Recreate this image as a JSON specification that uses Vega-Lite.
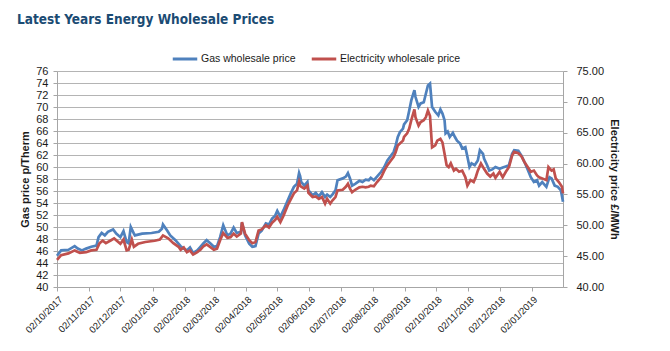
{
  "$schema": "https://vega.github.io/schema/vega-lite/v6.json",
  "width": 506,
  "height": 216,
  "autosize": {"type": "none"},
  "padding": {"left": 57, "top": 71, "right": 107, "bottom": 64},
  "background": "white",
  "title": {
    "text": "Latest Years Energy Wholesale Prices",
    "anchor": "start",
    "frame": "group",
    "dx": -40,
    "offset": 19,
    "font": "'DejaVu Sans Condensed', Lato, sans-serif",
    "fontSize": 13.5,
    "fontWeight": "bold",
    "color": "#1b4b73"
  },
  "datasets": {
    "gas": [
      {"date": "2017-10-02", "price": 45.2}, {"date": "2017-10-06", "price": 46.1}, {"date": "2017-10-13", "price": 46.2},
      {"date": "2017-10-19", "price": 46.8}, {"date": "2017-10-22", "price": 46.4}, {"date": "2017-10-26", "price": 46.1},
      {"date": "2017-10-30", "price": 46.4}, {"date": "2017-11-04", "price": 46.7}, {"date": "2017-11-09", "price": 46.9},
      {"date": "2017-11-11", "price": 48.3}, {"date": "2017-11-14", "price": 49.0}, {"date": "2017-11-17", "price": 48.6},
      {"date": "2017-11-20", "price": 49.2}, {"date": "2017-11-25", "price": 49.6}, {"date": "2017-11-28", "price": 48.9},
      {"date": "2017-12-02", "price": 48.3}, {"date": "2017-12-05", "price": 49.3}, {"date": "2017-12-08", "price": 47.5},
      {"date": "2017-12-10", "price": 47.3}, {"date": "2017-12-12", "price": 50.0}, {"date": "2017-12-15", "price": 48.9},
      {"date": "2017-12-16", "price": 48.6}, {"date": "2017-12-23", "price": 48.9}, {"date": "2018-01-01", "price": 49.0},
      {"date": "2018-01-08", "price": 49.2}, {"date": "2018-01-11", "price": 49.7}, {"date": "2018-01-12", "price": 50.4},
      {"date": "2018-01-16", "price": 49.4}, {"date": "2018-01-19", "price": 48.6}, {"date": "2018-01-24", "price": 47.8},
      {"date": "2018-01-29", "price": 46.8}, {"date": "2018-02-01", "price": 46.4}, {"date": "2018-02-04", "price": 46.1},
      {"date": "2018-02-07", "price": 46.6}, {"date": "2018-02-10", "price": 45.7}, {"date": "2018-02-14", "price": 46.1},
      {"date": "2018-02-17", "price": 46.7}, {"date": "2018-02-20", "price": 47.3}, {"date": "2018-02-23", "price": 47.8},
      {"date": "2018-02-27", "price": 47.2}, {"date": "2018-03-02", "price": 46.7}, {"date": "2018-03-05", "price": 46.8},
      {"date": "2018-03-08", "price": 48.3}, {"date": "2018-03-11", "price": 50.3}, {"date": "2018-03-15", "price": 48.6},
      {"date": "2018-03-18", "price": 48.9}, {"date": "2018-03-21", "price": 49.9}, {"date": "2018-03-24", "price": 49.0},
      {"date": "2018-03-28", "price": 49.2}, {"date": "2018-03-29", "price": 50.7}, {"date": "2018-04-01", "price": 48.6},
      {"date": "2018-04-05", "price": 47.2}, {"date": "2018-04-08", "price": 46.7}, {"date": "2018-04-11", "price": 46.8},
      {"date": "2018-04-14", "price": 48.9}, {"date": "2018-04-17", "price": 49.4}, {"date": "2018-04-21", "price": 50.6},
      {"date": "2018-04-24", "price": 50.4}, {"date": "2018-04-27", "price": 51.4}, {"date": "2018-04-30", "price": 51.9},
      {"date": "2018-05-02", "price": 52.7}, {"date": "2018-05-05", "price": 51.7}, {"date": "2018-05-08", "price": 52.8},
      {"date": "2018-05-12", "price": 54.4}, {"date": "2018-05-15", "price": 55.6}, {"date": "2018-05-18", "price": 56.7},
      {"date": "2018-05-21", "price": 57.2}, {"date": "2018-05-23", "price": 59.0}, {"date": "2018-05-24", "price": 58.5},
      {"date": "2018-05-25", "price": 57.5}, {"date": "2018-05-28", "price": 56.9}, {"date": "2018-05-31", "price": 57.5},
      {"date": "2018-06-01", "price": 56.1}, {"date": "2018-06-05", "price": 55.3}, {"date": "2018-06-08", "price": 55.7},
      {"date": "2018-06-11", "price": 55.1}, {"date": "2018-06-14", "price": 55.8}, {"date": "2018-06-17", "price": 55.0},
      {"date": "2018-06-19", "price": 55.4}, {"date": "2018-06-22", "price": 55.0}, {"date": "2018-06-24", "price": 55.4},
      {"date": "2018-06-27", "price": 56.1}, {"date": "2018-06-29", "price": 57.8}, {"date": "2018-07-04", "price": 58.1},
      {"date": "2018-07-07", "price": 58.4}, {"date": "2018-07-09", "price": 59.0}, {"date": "2018-07-11", "price": 58.1},
      {"date": "2018-07-13", "price": 56.9}, {"date": "2018-07-16", "price": 57.2}, {"date": "2018-07-20", "price": 57.7},
      {"date": "2018-07-23", "price": 57.5}, {"date": "2018-07-26", "price": 57.9}, {"date": "2018-07-29", "price": 57.8},
      {"date": "2018-07-31", "price": 58.2}, {"date": "2018-08-03", "price": 57.8}, {"date": "2018-08-06", "price": 58.4},
      {"date": "2018-08-10", "price": 59.2}, {"date": "2018-08-13", "price": 60.0}, {"date": "2018-08-16", "price": 61.1},
      {"date": "2018-08-19", "price": 61.8}, {"date": "2018-08-22", "price": 62.5}, {"date": "2018-08-24", "price": 63.6},
      {"date": "2018-08-26", "price": 65.0}, {"date": "2018-08-28", "price": 65.8}, {"date": "2018-08-31", "price": 66.4},
      {"date": "2018-09-01", "price": 67.1}, {"date": "2018-09-04", "price": 67.8}, {"date": "2018-09-06", "price": 69.4},
      {"date": "2018-09-08", "price": 71.1}, {"date": "2018-09-11", "price": 72.8}, {"date": "2018-09-12", "price": 71.7},
      {"date": "2018-09-15", "price": 70.0}, {"date": "2018-09-17", "price": 70.6}, {"date": "2018-09-20", "price": 70.8},
      {"date": "2018-09-22", "price": 72.2}, {"date": "2018-09-24", "price": 73.6}, {"date": "2018-09-26", "price": 73.9},
      {"date": "2018-09-28", "price": 70.0}, {"date": "2018-10-01", "price": 69.2}, {"date": "2018-10-04", "price": 68.6},
      {"date": "2018-10-06", "price": 69.6}, {"date": "2018-10-08", "price": 68.9}, {"date": "2018-10-10", "price": 67.8},
      {"date": "2018-10-11", "price": 65.6}, {"date": "2018-10-13", "price": 65.9}, {"date": "2018-10-15", "price": 65.0},
      {"date": "2018-10-18", "price": 65.7}, {"date": "2018-10-20", "price": 65.0}, {"date": "2018-10-22", "price": 64.4},
      {"date": "2018-10-25", "price": 63.9}, {"date": "2018-10-27", "price": 63.1}, {"date": "2018-10-30", "price": 63.3},
      {"date": "2018-11-01", "price": 61.7}, {"date": "2018-11-03", "price": 60.0}, {"date": "2018-11-05", "price": 60.6},
      {"date": "2018-11-08", "price": 60.3}, {"date": "2018-11-11", "price": 61.1}, {"date": "2018-11-13", "price": 62.8},
      {"date": "2018-11-16", "price": 62.2}, {"date": "2018-11-17", "price": 61.4}, {"date": "2018-11-20", "price": 60.3},
      {"date": "2018-11-22", "price": 59.4}, {"date": "2018-11-25", "price": 59.6}, {"date": "2018-11-28", "price": 60.0},
      {"date": "2018-12-02", "price": 59.7}, {"date": "2018-12-05", "price": 59.9}, {"date": "2018-12-08", "price": 60.1},
      {"date": "2018-12-11", "price": 60.3}, {"date": "2018-12-14", "price": 62.2}, {"date": "2018-12-16", "price": 62.8},
      {"date": "2018-12-20", "price": 62.7}, {"date": "2018-12-23", "price": 61.9}, {"date": "2018-12-26", "price": 60.8},
      {"date": "2018-12-29", "price": 59.6}, {"date": "2019-01-01", "price": 58.3}, {"date": "2019-01-04", "price": 57.5},
      {"date": "2019-01-07", "price": 57.8}, {"date": "2019-01-09", "price": 56.9}, {"date": "2019-01-12", "price": 57.5},
      {"date": "2019-01-16", "price": 56.7}, {"date": "2019-01-19", "price": 58.3}, {"date": "2019-01-21", "price": 58.1},
      {"date": "2019-01-24", "price": 56.9}, {"date": "2019-01-27", "price": 56.7}, {"date": "2019-01-30", "price": 56.1},
      {"date": "2019-02-01", "price": 54.2}
    ],
    "elec": [
      {"date": "2017-10-02", "price": 44.4}, {"date": "2017-10-06", "price": 45.15}, {"date": "2017-10-13", "price": 45.44},
      {"date": "2017-10-19", "price": 45.93}, {"date": "2017-10-24", "price": 45.54}, {"date": "2017-10-30", "price": 45.64},
      {"date": "2017-11-04", "price": 45.93}, {"date": "2017-11-09", "price": 46.03}, {"date": "2017-11-12", "price": 47.1},
      {"date": "2017-11-15", "price": 47.49}, {"date": "2017-11-18", "price": 47.1}, {"date": "2017-11-23", "price": 47.58},
      {"date": "2017-11-26", "price": 47.88}, {"date": "2017-12-02", "price": 47.0}, {"date": "2017-12-05", "price": 47.68},
      {"date": "2017-12-08", "price": 45.93}, {"date": "2017-12-10", "price": 46.03}, {"date": "2017-12-13", "price": 47.68},
      {"date": "2017-12-15", "price": 46.51}, {"date": "2017-12-19", "price": 47.0}, {"date": "2017-12-26", "price": 47.29},
      {"date": "2018-01-04", "price": 47.49}, {"date": "2018-01-09", "price": 47.68}, {"date": "2018-01-12", "price": 48.36},
      {"date": "2018-01-17", "price": 47.88}, {"date": "2018-01-22", "price": 47.1}, {"date": "2018-01-27", "price": 46.51},
      {"date": "2018-01-29", "price": 46.03}, {"date": "2018-02-01", "price": 46.42}, {"date": "2018-02-04", "price": 45.64},
      {"date": "2018-02-07", "price": 45.93}, {"date": "2018-02-10", "price": 45.25}, {"date": "2018-02-14", "price": 45.64},
      {"date": "2018-02-17", "price": 46.03}, {"date": "2018-02-20", "price": 46.61}, {"date": "2018-02-23", "price": 46.9},
      {"date": "2018-02-27", "price": 46.42}, {"date": "2018-03-02", "price": 46.03}, {"date": "2018-03-05", "price": 46.22},
      {"date": "2018-03-08", "price": 47.58}, {"date": "2018-03-11", "price": 48.75}, {"date": "2018-03-15", "price": 47.97},
      {"date": "2018-03-18", "price": 48.07}, {"date": "2018-03-21", "price": 48.65}, {"date": "2018-03-24", "price": 48.17},
      {"date": "2018-03-28", "price": 48.65}, {"date": "2018-03-29", "price": 50.5}, {"date": "2018-04-01", "price": 48.65},
      {"date": "2018-04-05", "price": 47.58}, {"date": "2018-04-08", "price": 47.1}, {"date": "2018-04-11", "price": 47.29},
      {"date": "2018-04-14", "price": 49.14}, {"date": "2018-04-17", "price": 49.33}, {"date": "2018-04-21", "price": 50.01},
      {"date": "2018-04-24", "price": 49.63}, {"date": "2018-04-27", "price": 50.4}, {"date": "2018-04-30", "price": 50.89},
      {"date": "2018-05-02", "price": 51.38}, {"date": "2018-05-05", "price": 50.5}, {"date": "2018-05-08", "price": 51.57},
      {"date": "2018-05-12", "price": 53.22}, {"date": "2018-05-15", "price": 54.19}, {"date": "2018-05-18", "price": 55.17},
      {"date": "2018-05-21", "price": 55.65}, {"date": "2018-05-23", "price": 57.01}, {"date": "2018-05-24", "price": 56.43},
      {"date": "2018-05-25", "price": 56.24}, {"date": "2018-05-28", "price": 55.94}, {"date": "2018-05-31", "price": 56.43},
      {"date": "2018-06-01", "price": 55.26}, {"date": "2018-06-05", "price": 54.58}, {"date": "2018-06-08", "price": 54.68},
      {"date": "2018-06-11", "price": 54.29}, {"date": "2018-06-14", "price": 54.58}, {"date": "2018-06-17", "price": 53.51},
      {"date": "2018-06-19", "price": 54.29}, {"date": "2018-06-22", "price": 53.51}, {"date": "2018-06-24", "price": 54.0},
      {"date": "2018-06-27", "price": 54.58}, {"date": "2018-06-29", "price": 55.65}, {"date": "2018-07-04", "price": 55.75},
      {"date": "2018-07-07", "price": 56.24}, {"date": "2018-07-09", "price": 56.72}, {"date": "2018-07-11", "price": 55.94},
      {"date": "2018-07-13", "price": 55.36}, {"date": "2018-07-16", "price": 55.75}, {"date": "2018-07-20", "price": 56.14},
      {"date": "2018-07-23", "price": 56.24}, {"date": "2018-07-26", "price": 56.14}, {"date": "2018-07-29", "price": 56.24},
      {"date": "2018-07-31", "price": 56.43}, {"date": "2018-08-03", "price": 56.33}, {"date": "2018-08-06", "price": 57.01},
      {"date": "2018-08-10", "price": 57.79}, {"date": "2018-08-13", "price": 58.86}, {"date": "2018-08-16", "price": 59.74},
      {"date": "2018-08-19", "price": 60.42}, {"date": "2018-08-22", "price": 61.1}, {"date": "2018-08-24", "price": 61.88},
      {"date": "2018-08-26", "price": 62.94}, {"date": "2018-08-28", "price": 63.24}, {"date": "2018-08-31", "price": 63.72},
      {"date": "2018-09-01", "price": 64.31}, {"date": "2018-09-04", "price": 64.89}, {"date": "2018-09-06", "price": 65.67},
      {"date": "2018-09-08", "price": 67.03}, {"date": "2018-09-11", "price": 68.78}, {"date": "2018-09-12", "price": 67.51},
      {"date": "2018-09-15", "price": 66.15}, {"date": "2018-09-17", "price": 66.74}, {"date": "2018-09-20", "price": 67.03},
      {"date": "2018-09-22", "price": 67.51}, {"date": "2018-09-24", "price": 68.58}, {"date": "2018-09-26", "price": 67.71},
      {"date": "2018-09-28", "price": 62.63}, {"date": "2018-10-01", "price": 62.94}, {"date": "2018-10-03", "price": 63.72},
      {"date": "2018-10-06", "price": 64.01}, {"date": "2018-10-08", "price": 63.43}, {"date": "2018-10-10", "price": 61.58},
      {"date": "2018-10-12", "price": 59.74}, {"date": "2018-10-14", "price": 59.44}, {"date": "2018-10-16", "price": 60.03},
      {"date": "2018-10-19", "price": 58.86}, {"date": "2018-10-21", "price": 59.15}, {"date": "2018-10-24", "price": 58.67},
      {"date": "2018-10-27", "price": 58.86}, {"date": "2018-10-30", "price": 57.79}, {"date": "2018-11-01", "price": 56.43},
      {"date": "2018-11-04", "price": 57.31}, {"date": "2018-11-07", "price": 57.01}, {"date": "2018-11-09", "price": 57.79},
      {"date": "2018-11-11", "price": 58.86}, {"date": "2018-11-14", "price": 60.03}, {"date": "2018-11-17", "price": 59.15},
      {"date": "2018-11-20", "price": 58.38}, {"date": "2018-11-23", "price": 57.89}, {"date": "2018-11-26", "price": 58.38},
      {"date": "2018-11-28", "price": 57.69}, {"date": "2018-12-02", "price": 58.67}, {"date": "2018-12-05", "price": 57.79},
      {"date": "2018-12-08", "price": 58.67}, {"date": "2018-12-11", "price": 59.44}, {"date": "2018-12-14", "price": 61.29},
      {"date": "2018-12-16", "price": 61.88}, {"date": "2018-12-20", "price": 61.68}, {"date": "2018-12-23", "price": 61.19},
      {"date": "2018-12-26", "price": 60.22}, {"date": "2018-12-29", "price": 59.44}, {"date": "2019-01-01", "price": 58.67},
      {"date": "2019-01-04", "price": 58.86}, {"date": "2019-01-07", "price": 58.08}, {"date": "2019-01-09", "price": 57.79},
      {"date": "2019-01-12", "price": 57.6}, {"date": "2019-01-16", "price": 57.31}, {"date": "2019-01-18", "price": 59.44},
      {"date": "2019-01-21", "price": 58.86}, {"date": "2019-01-23", "price": 59.06}, {"date": "2019-01-25", "price": 57.6},
      {"date": "2019-01-28", "price": 57.01}, {"date": "2019-01-31", "price": 56.24}, {"date": "2019-02-01", "price": 55.17}
    ]
  },
  "encoding": {
    "x": {
      "field": "date",
      "type": "temporal",
      "scale": {
        "type": "utc",
        "domain": [
          {"year": 2017, "month": 10, "date": 2, "utc": true},
          {"year": 2019, "month": 2, "date": 1, "utc": true}
        ]
      },
      "axis": {
        "title": null,
        "grid": false,
        "values": [
          {"year": 2017, "month": 10, "date": 2, "utc": true},
          {"year": 2017, "month": 11, "date": 2, "utc": true},
          {"year": 2017, "month": 12, "date": 2, "utc": true},
          {"year": 2018, "month": 1, "date": 2, "utc": true},
          {"year": 2018, "month": 2, "date": 2, "utc": true},
          {"year": 2018, "month": 3, "date": 2, "utc": true},
          {"year": 2018, "month": 4, "date": 2, "utc": true},
          {"year": 2018, "month": 5, "date": 2, "utc": true},
          {"year": 2018, "month": 6, "date": 2, "utc": true},
          {"year": 2018, "month": 7, "date": 2, "utc": true},
          {"year": 2018, "month": 8, "date": 2, "utc": true},
          {"year": 2018, "month": 9, "date": 2, "utc": true},
          {"year": 2018, "month": 10, "date": 2, "utc": true},
          {"year": 2018, "month": 11, "date": 2, "utc": true},
          {"year": 2018, "month": 12, "date": 2, "utc": true},
          {"year": 2019, "month": 1, "date": 2, "utc": true}
        ],
        "labelExpr": "utcFormat(datum.value, '%d/%m/%Y')",
        "labelAngle": -45,
        "labelFontSize": 9.5,
        "labelPadding": 3,
        "tickSize": 4,
        "labelFlush": false,
        "labelOverlap": false
      }
    }
  },
  "layer": [
    {
      "data": {"name": "gas"},
      "mark": {"type": "line", "strokeWidth": 2.7, "interpolate": "linear"},
      "encoding": {
        "y": {
          "field": "price",
          "type": "quantitative",
          "scale": {"domain": [40, 76], "nice": false, "zero": false},
          "axis": {
            "orient": "left",
            "title": "Gas price p/Therm",
            "values": [40, 42, 44, 46, 48, 50, 52, 54, 56, 58, 60, 62, 64, 66, 68, 70, 72, 74, 76],
            "grid": true,
            "tickSize": 4,
            "labelPadding": 5,
            "titlePadding": 5
          }
        },
        "color": {
          "datum": "Gas wholesale price",
          "scale": {
            "domain": ["Gas wholesale price", "Electricity wholesale price"],
            "range": ["#4f81bd", "#c0504d"]
          },
          "legend": {
            "orient": "none",
            "legendX": 114,
            "legendY": -26,
            "direction": "horizontal",
            "title": null
          }
        }
      }
    },
    {
      "data": {"name": "elec"},
      "mark": {"type": "line", "strokeWidth": 2.7, "interpolate": "linear"},
      "encoding": {
        "y": {
          "field": "price",
          "type": "quantitative",
          "scale": {"domain": [40, 75], "nice": false, "zero": false},
          "axis": {
            "orient": "right",
            "title": "Electricity price £/MWh",
            "values": [40, 45, 50, 55, 60, 65, 70, 75],
            "format": ".2f",
            "grid": false,
            "tickSize": 4,
            "labelPadding": 9,
            "titlePadding": 5
          }
        },
        "color": {"datum": "Electricity wholesale price"}
      }
    }
  ],
  "resolve": {"scale": {"y": "independent"}, "axis": {"y": "independent"}},
  "config": {
    "font": "Liberation Sans",
    "view": {"stroke": null},
    "axis": {
      "labelFont": "Liberation Sans",
      "labelFontSize": 11,
      "labelColor": "#1a1a1a",
      "titleFont": "Liberation Sans",
      "titleFontSize": 11,
      "titleFontWeight": "bold",
      "titleColor": "#1a1a1a",
      "domainColor": "#a6a6a6",
      "tickColor": "#a6a6a6",
      "gridColor": "#b4b4b4",
      "gridWidth": 1,
      "domainWidth": 1
    },
    "legend": {
      "symbolType": "stroke",
      "symbolSize": 600,
      "symbolStrokeWidth": 3,
      "labelFont": "Liberation Sans",
      "labelFontSize": 10.5,
      "labelColor": "#1a1a1a",
      "labelOffset": 2,
      "columnPadding": 9
    }
  }
}
